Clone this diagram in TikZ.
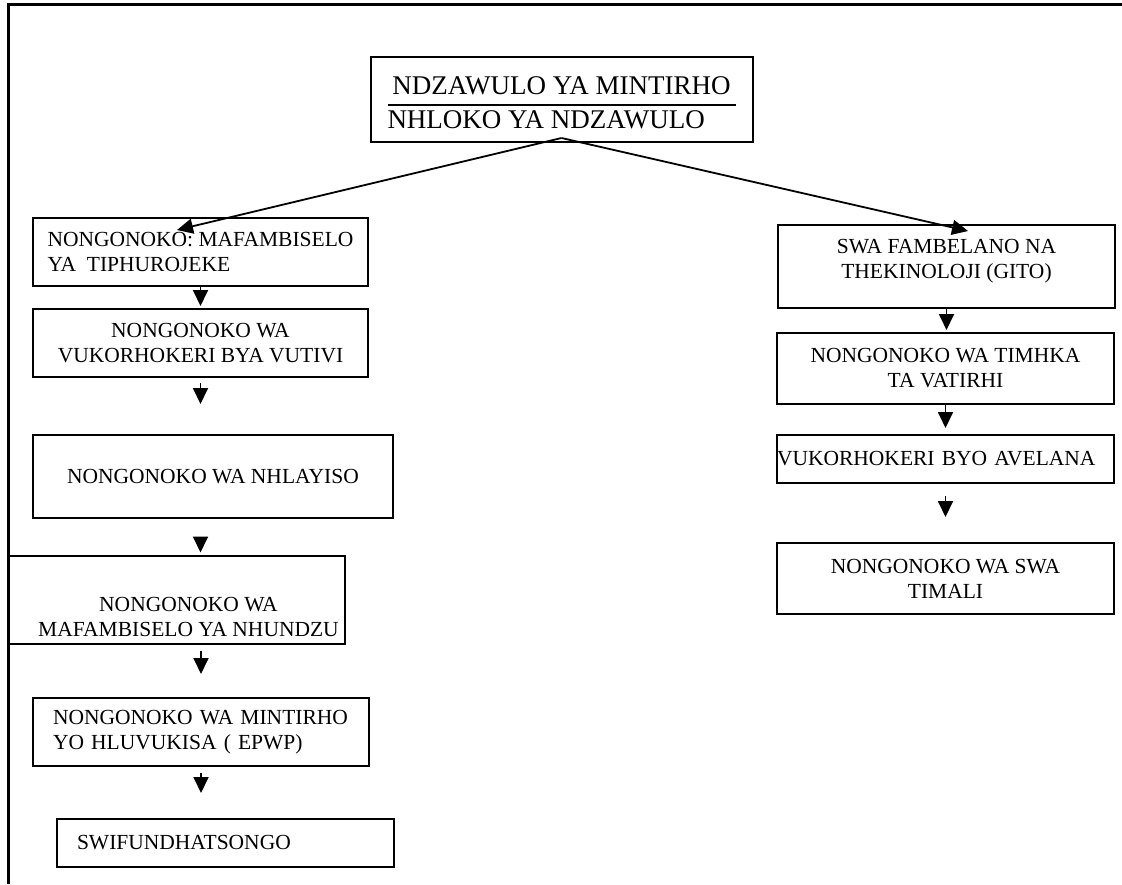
\documentclass[tikz,border=0pt]{standalone}
\usepackage{fontspec}
\setmainfont{Liberation Serif}
\usetikzlibrary{arrows.meta}
\setlength{\arrayrulewidth}{2pt}
\newcommand{\headfont}{\fontsize{27}{32}\selectfont}
\newcommand{\boxfont}{\fontsize{21.5}{25}\selectfont}
\begin{document}
\begin{tikzpicture}[x=1pt, y=-1pt,
	box/.style={draw, line width=2pt, inner sep=0pt, font=\boxfont},
	arr/.style={line width=1.8pt, -{Triangle[width=15pt,length=16pt]}},
	frame/.style={line width=3pt}]
	\useasboundingbox (0,0) rectangle (1122,884);
	\draw[frame] (8,884) -- (8,4) -- (1122,4);
	\node[box, minimum width=382pt, text height=37pt, text depth=48pt, font=\headfont] (head) at (561.5,99.5)
		{\begin{tabular}[t]{@{}l@{}}\makebox[348pt]{NDZAWULO YA MINTIRHO}\\ \hline NHLOKO YA NDZAWULO\end{tabular}};
	\node[box, minimum width=335pt, minimum height=68pt, align=left] (b1) at (200.5,252) {NONGONOKO: MAFAMBISELO\\YA~~TIPHUROJEKE};
	\node[box, minimum width=335pt, minimum height=68pt, align=center] (b2) at (200.5,343) {NONGONOKO WA\\VUKORHOKERI BYA VUTIVI};
	\node[box, minimum width=360pt, minimum height=83pt] (b3) at (213,476.5) {NONGONOKO WA NHLAYISO};
	\node[box, minimum width=337pt, minimum height=88pt, align=center] (b4) at (176.5,599.5)
		{\rule{0pt}{50pt}\hspace*{24pt}NONGONOKO WA\\\hspace*{24pt}MAFAMBISELO YA NHUNDZU};
	\node[box, minimum width=336pt, minimum height=68pt, text width=296pt, align=left] (b5) at (201,732) {NONGONOKO WA MINTIRHO\\YO HLUVUKISA ( EPWP)};
	\node[box, minimum width=337pt, minimum height=48pt, text width=297pt, align=left] (b6) at (225.5,843) {SWIFUNDHATSONGO};
	\node[box, minimum width=337pt, minimum height=83pt, align=center] (r1) at (946.5,266.5) {SWA FAMBELANO NA\\THEKINOLOJI (GITO)\rule[-15pt]{0pt}{15pt}};
	\node[box, minimum width=337pt, minimum height=71pt, align=center] (r2) at (945.5,368.5) {NONGONOKO WA TIMHKA\\TA VATIRHI};
	\node[box, minimum width=337pt, minimum height=48pt, text width=337pt, align=left] (r3) at (945.5,459) {VUKORHOKERI BYO AVELANA};
	\node[box, minimum width=337pt, minimum height=71pt, align=center] (r4) at (945.5,578.5) {NONGONOKO WA SWA\\TIMALI};
	\draw[arr] ([yshift=5pt]head.south) -- ([xshift=-23.5pt,yshift=-13pt]b1.north);
	\draw[arr] ([yshift=5pt]head.south) -- ([xshift=21.5pt,yshift=-7pt]r1.north);
	\draw[arr, shorten >=2pt] (b1.south) -- (b2.north);
	\draw[arr, shorten <=5pt, shorten >=30pt] (b2.south) -- (b2.south |- b3.north);
	\draw[arr, shorten <=19pt, shorten >=2pt] (b2.south |- b3.south) -- (b2.south |- b4.north);
	\draw[arr, shorten <=6pt, shorten >=23pt] (b5.north |- b4.south) -- (b5.north);
	\draw[arr, shorten <=6pt, shorten >=25pt] (b5.south) -- (b5.south |- b6.north);
	\draw[arr, shorten >=2pt] (r1.south) -- (r1.south |- r2.north);
	\draw[arr, shorten >=6pt] (r2.south) -- (r3.north);
	\draw[arr, shorten <=12pt, shorten >=25pt] (r3.south) -- (r4.north);
\end{tikzpicture}
\end{document}
